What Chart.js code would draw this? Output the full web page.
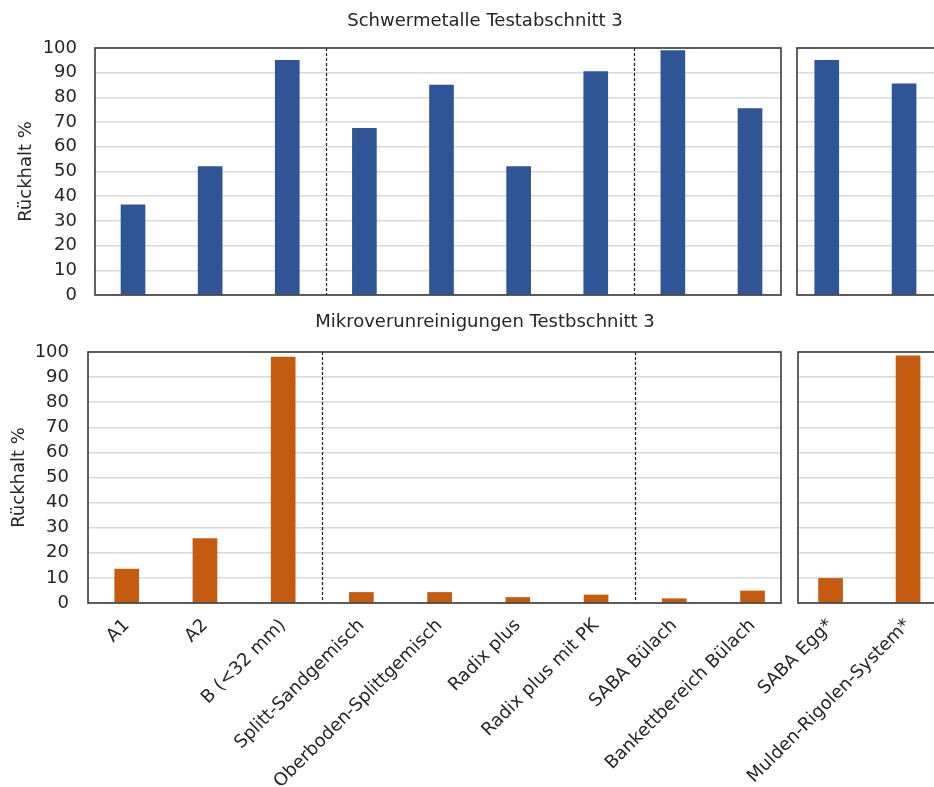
<!DOCTYPE html>
<html lang="de">
<head>
<meta charset="utf-8">
<title>Schwermetalle und Mikroverunreinigungen Testabschnitt 3</title>
<script src="https://cdn.jsdelivr.net/npm/chart.js@4.4.1/dist/chart.umd.min.js"></script>
<style>
    html, body { margin: 0; padding: 0; background: #ffffff; overflow: hidden; }
    #page { position: relative; width: 934px; height: 787px; overflow: hidden; background: #ffffff; }
    .panel { position: absolute; }
    .title {
        position: absolute; left: 0; width: 970px; text-align: center;
        font-family: 'DejaVu Sans', sans-serif; font-size: 18px; line-height: 22px; color: #262626;
    }
</style>
</head>
<body>
<div id="page">
    <div class="panel" style="left:0;top:0;width:784px;height:330px"><canvas id="metalsMain"></canvas></div>
    <div class="panel" style="left:700px;top:0;width:260px;height:330px"><canvas id="metalsExtra"></canvas></div>
    <div class="panel" style="left:0;top:300px;width:784px;height:487px"><canvas id="microMain"></canvas></div>
    <div class="panel" style="left:700px;top:300px;width:260px;height:487px"><canvas id="microExtra"></canvas></div>
    <div class="title" style="top:9px">Schwermetalle Testabschnitt 3</div>
    <div class="title" style="top:310px">Mikroverunreinigungen Testbschnitt 3</div>
</div>
<script>
// ===== DATEN =====
const mainCategories = ['A1', 'A2', 'B (<32 mm)', 'Splitt-Sandgemisch', 'Oberboden-Splittgemisch',
    'Radix plus', 'Radix plus mit PK', 'SABA Bülach', 'Bankettbereich Bülach'];
const extraCategories = ['SABA Egg*', 'Mulden-Rigolen-System*'];

const metalsMainValues = [36.5, 52, 95, 67.5, 85, 52, 90.5, 99, 75.5];
const metalsExtraValues = [95, 85.5];
const microMainValues = [13.5, 25.7, 98, 4.2, 4.2, 2.2, 3.2, 1.7, 4.8];
const microExtraValues = [9.8, 98.5];

const axisTitle = 'Rückhalt %';

// Trennlinien zwischen den Gruppen (zwischen Kategorie 3|4 und 7|8)
const dividerPositions = [2.5, 6.5];

Chart.defaults.font.family = "'DejaVu Sans', sans-serif";
Chart.defaults.font.size = 18;
Chart.defaults.color = '#262626';

// Rahmen um den Plotbereich + gestrichelte Trennlinien
const frameAndDividers = {
    id: 'frameAndDividers',
    afterDatasetsDraw(chart, args, opts) {
        const { ctx, chartArea: { left, top, right, bottom }, scales: { x } } = chart;
        ctx.save();
        ctx.strokeStyle = '#1a1a1a';
        ctx.lineWidth = 1.2;
        ctx.setLineDash([3, 2]);
        (opts.dividers || []).forEach(function (d) {
            const px = Math.round(x.getPixelForValue(d)) + 0.5;
            ctx.beginPath();
            ctx.moveTo(px, top);
            ctx.lineTo(px, bottom);
            ctx.stroke();
        });
        ctx.setLineDash([]);
        ctx.strokeStyle = '#3a3a3a';
        ctx.lineWidth = 1.6;
        ctx.strokeRect(left, top, right - left, bottom - top);
        ctx.restore();
    }
};

function createPanel(canvasId, cfg) {
    const ctx = document.getElementById(canvasId);
    if (!ctx) return null;

    return new Chart(ctx, {
        type: 'bar',
        data: {
            datasets: [{
                data: cfg.values.map((v, i) => ({ x: i, y: v })),
                backgroundColor: cfg.color,
                barThickness: 24
            }]
        },
        options: {
            responsive: true,
            maintainAspectRatio: false,
            animation: false,
            layout: { padding: cfg.padding },
            plugins: {
                legend: { display: false },
                tooltip: { enabled: false },
                frameAndDividers: { dividers: cfg.dividers || [] }
            },
            scales: {
                x: {
                    type: 'linear',
                    bounds: 'data',
                    min: cfg.xMin,
                    max: cfg.xMax,
                    offset: false,
                    display: cfg.showLabels,
                    grid: { display: false, drawTicks: false },
                    border: { display: false },
                    afterBuildTicks: function (scale) {
                        scale.ticks = cfg.labels.map((_, i) => ({ value: i }));
                    },
                    afterFit: function (scale) {
                        if (cfg.xHeight) scale.height = cfg.xHeight;
                    },
                    ticks: {
                        autoSkip: false,
                        minRotation: 45,
                        maxRotation: 45,
                        padding: 12,
                        callback: function (value) {
                            return cfg.labels[value];
                        }
                    }
                },
                y: {
                    min: 0,
                    max: 100,
                    grid: { color: '#d9d9d9', lineWidth: 1.5, drawTicks: false },
                    border: { display: false },
                    ticks: {
                        stepSize: 10,
                        display: cfg.showYAxis,
                        padding: cfg.tickPadding || 0
                    },
                    title: {
                        display: cfg.showYAxis,
                        text: axisTitle,
                        padding: 0
                    },
                    afterFit: function (scale) {
                        scale.width = cfg.yWidth;
                    }
                }
            }
        },
        plugins: [frameAndDividers]
    });
}

// ===== OBEN: SCHWERMETALLE =====
createPanel('metalsMain', {
    labels: mainCategories, values: metalsMainValues, color: '#2f5597',
    showLabels: false, showYAxis: true, yWidth: 79, tickPadding: 18,
    xMin: -0.493, xMax: 8.402, dividers: dividerPositions,
    padding: { left: 16, top: 48, right: 3, bottom: 35 }
});
createPanel('metalsExtra', {
    labels: extraCategories, values: metalsExtraValues, color: '#2f5597',
    showLabels: false, showYAxis: false, yWidth: 0,
    xMin: -0.385, xMax: 1.594,
    padding: { left: 97, top: 48, right: 10, bottom: 35 }
});

// ===== UNTEN: MIKROVERUNREINIGUNGEN =====
createPanel('microMain', {
    labels: mainCategories, values: microMainValues, color: '#c55a11',
    showLabels: true, xHeight: 184, showYAxis: true, yWidth: 79, tickPadding: 19,
    xMin: -0.495, xMax: 8.364, dividers: dividerPositions,
    padding: { left: 9, top: 52, right: 3, bottom: 0 }
});
createPanel('microExtra', {
    labels: extraCategories, values: microExtraValues, color: '#c55a11',
    showLabels: true, xHeight: 184, showYAxis: false, yWidth: 0,
    xMin: -0.42, xMax: 1.541,
    padding: { left: 98, top: 52, right: 10, bottom: 0 }
});
</script>
</body>
</html>
